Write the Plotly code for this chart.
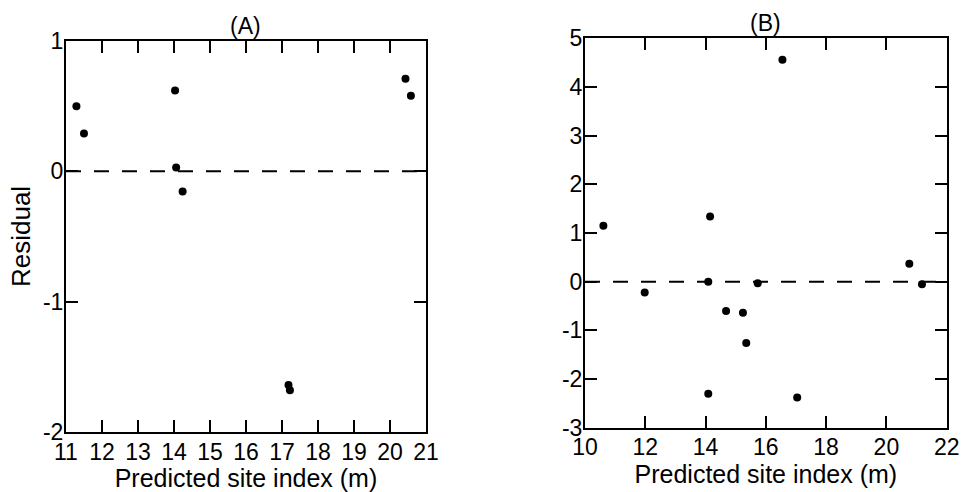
import plotly.graph_objects as go

# Panel A data
a_x = [11.29, 11.50, 14.03, 14.06, 14.24, 17.18, 17.22, 20.43, 20.58]
a_y = [0.50, 0.29, 0.62, 0.03, -0.155, -1.64, -1.68, 0.71, 0.58]

# Panel B data
b_x = [10.61, 11.98, 14.09, 14.09, 14.15, 14.68, 15.24, 15.35, 15.73, 16.55, 17.04, 20.76, 21.18]
b_y = [1.15, -0.22, 0.0, -2.30, 1.34, -0.60, -0.64, -1.26, -0.03, 4.56, -2.38, 0.37, -0.05]

a_xticks = list(range(11, 22))
a_yticks = [-2, -1, 0, 1]
a_yticktext = ["-2", "-1", "0", "1"]
b_xticks = list(range(10, 23, 2))
b_yticks = list(range(-3, 6))
b_yticktext = ["-3", "-2", "-1", "0", "1", "2", "3", "4", "5"]

FONT = "Liberation Sans, Arial, sans-serif"
fs = 23

fig = go.Figure()
fig.add_trace(go.Scatter(x=a_x, y=a_y, mode="markers", xaxis="x", yaxis="y",
                         marker=dict(color="black", size=8), showlegend=False))
fig.add_trace(go.Scatter(x=b_x, y=b_y, mode="markers", xaxis="x2", yaxis="y2",
                         marker=dict(color="black", size=8), showlegend=False))

axis_common = dict(showline=True, linecolor="black", linewidth=2, mirror="allticks",
                   ticks="inside", ticklen=12, tickwidth=2, tickcolor="black",
                   showgrid=False, zeroline=False, automargin=False,
                   tickfont=dict(family=FONT, size=fs, color="black"))

xtitle_font = dict(family=FONT, size=25, color="black")
ytitle_font = dict(family=FONT, size=26, color="black")

fig.update_layout(
    width=966, height=492,
    margin=dict(l=0, r=0, t=0, b=0),
    paper_bgcolor="white", plot_bgcolor="white",
    font=dict(family=FONT, size=fs, color="black"),
    xaxis=dict(domain=[0.0683, 0.441], range=[11, 21], tickvals=a_xticks, ticklabelstandoff=-2,
               title=dict(text="Predicted site index (m)", standoff=3, font=xtitle_font),
               anchor="y", **axis_common),
    yaxis=dict(domain=[0.122, 0.9167], range=[-2, 1], tickvals=a_yticks, ticktext=a_yticktext,
               title=dict(text="Residual", standoff=5, font=ytitle_font), anchor="x",
               ticklabelstandoff=-4, **axis_common),
    xaxis2=dict(domain=[0.6056, 0.980], range=[10, 22], tickvals=b_xticks, ticklabelstandoff=-2,
                title=dict(text="Predicted site index (m)", standoff=3, font=xtitle_font),
                anchor="y2", **axis_common),
    yaxis2=dict(domain=[0.1307, 0.922], range=[-3, 5], tickvals=b_yticks, ticktext=b_yticktext,
                anchor="x2", ticklabelstandoff=-4, **axis_common),
    shapes=[
        dict(type="line", xref="x domain", yref="y", x0=0, x1=1, y0=0, y1=0,
             line=dict(color="black", width=2, dash="15px,13px")),
        dict(type="line", xref="x2 domain", yref="y2", x0=0, x1=1, y0=0, y1=0,
             line=dict(color="black", width=2, dash="15px,13px")),
    ],
    annotations=[
        dict(text="(A)", xref="x domain", yref="y domain", x=0.5, y=1, yanchor="bottom",
             yshift=0, showarrow=False, font=dict(family=FONT, size=fs)),
        dict(text="(B)", xref="x2 domain", yref="y2 domain", x=0.5, y=1, yanchor="bottom",
             yshift=0, showarrow=False, font=dict(family=FONT, size=fs)),
    ],
)

fig.write_html("out.html", config={"displayModeBar": False},
               post_script="document.body.style.margin='0';document.body.style.padding='0';document.body.style.overflow='hidden';")
